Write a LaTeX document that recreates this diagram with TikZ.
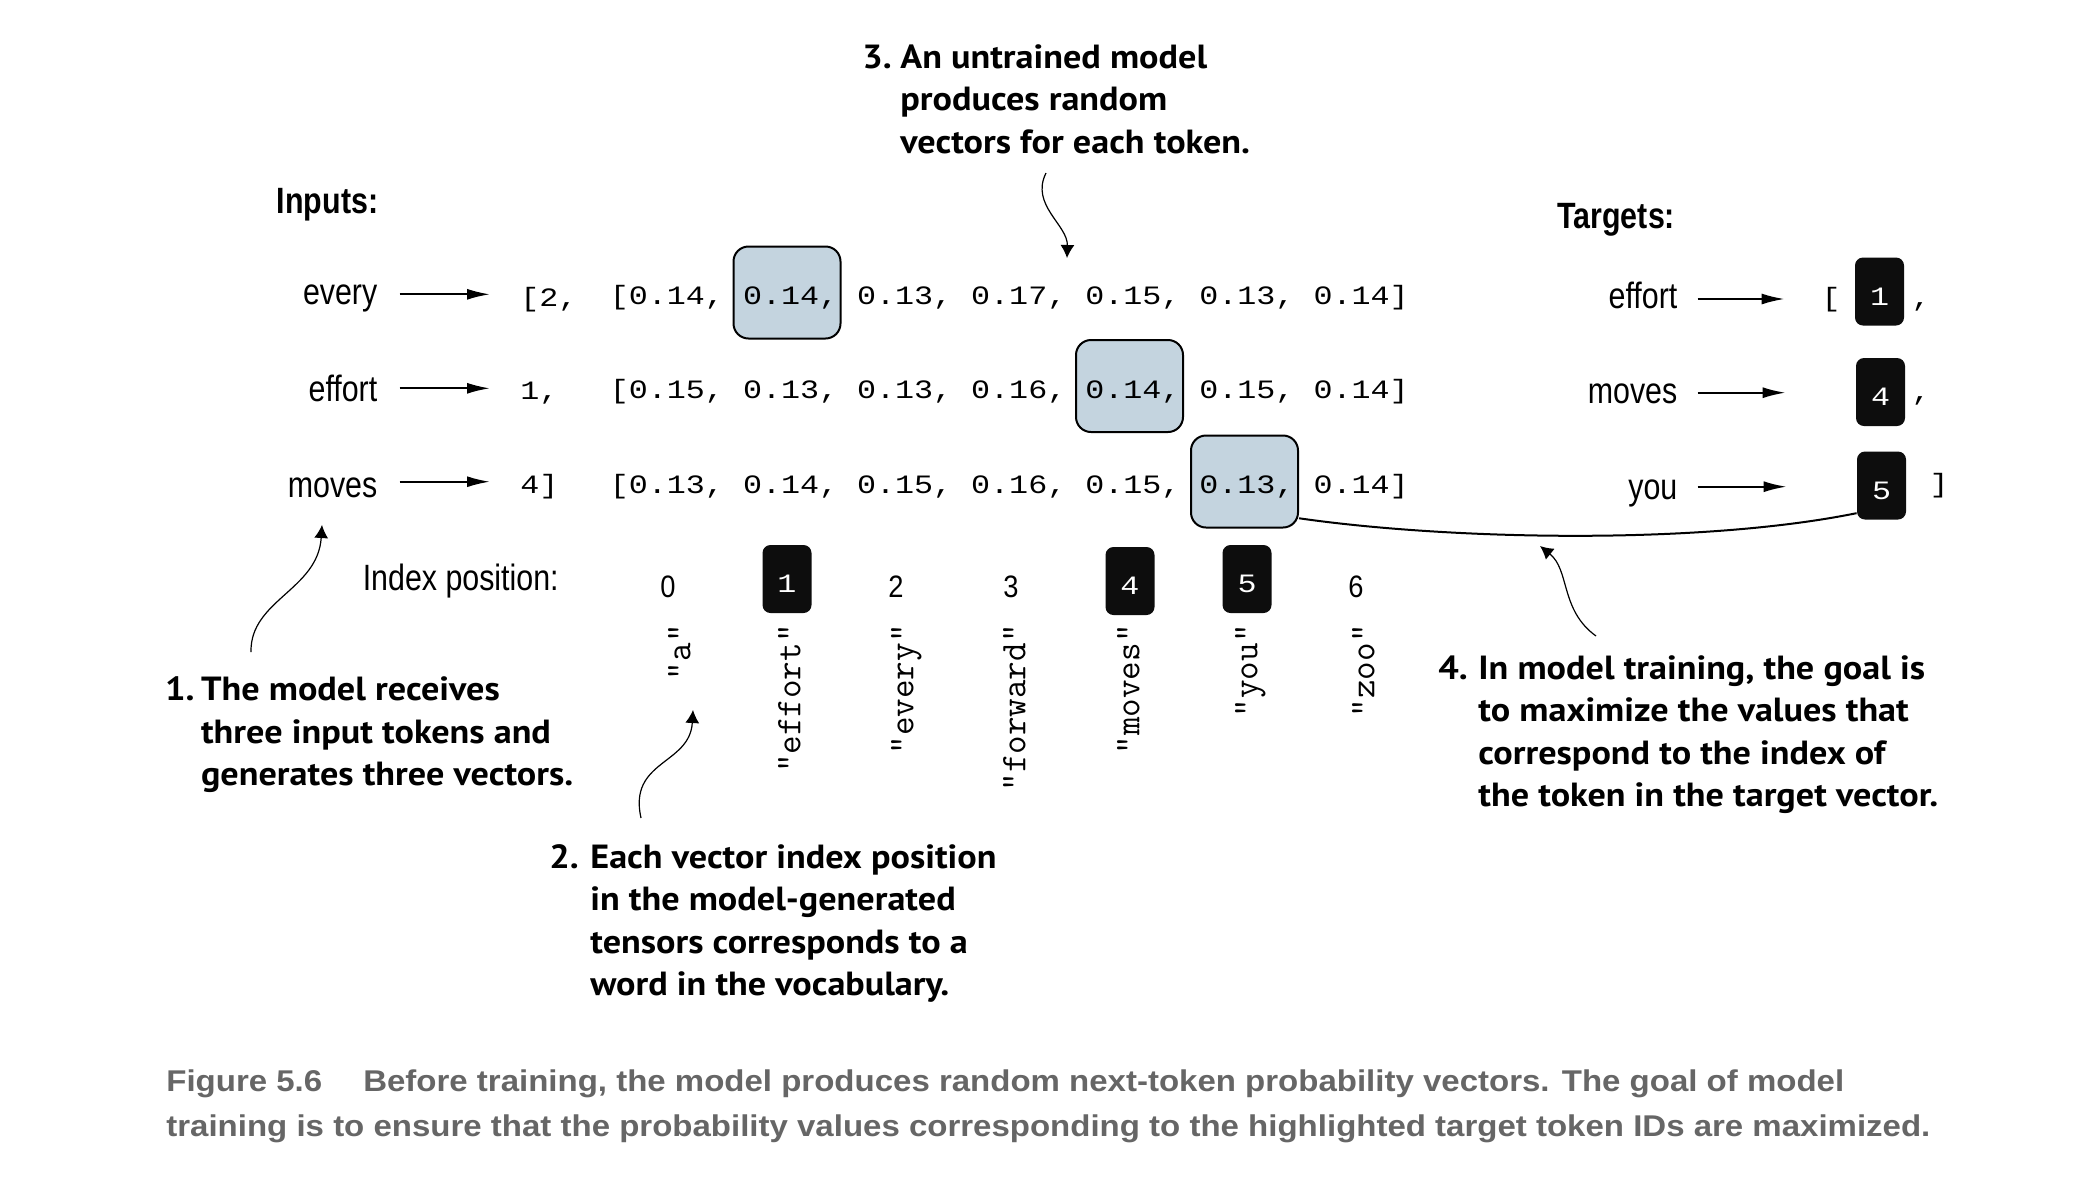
\documentclass[tikz,border=0pt]{standalone}
\usepackage{fontspec}
\usetikzlibrary{arrows.meta}
\newfontfamily\lblfont[FakeStretch=0.83]{Liberation Sans}
\newfontfamily\digfont[FakeStretch=0.88]{Liberation Sans}
\newfontfamily\annfont[FakeStretch=1.08]{PT Sans}
\newfontfamily\capfont[FakeStretch=1.1]{Liberation Sans}
\newfontfamily\vecfont[FakeStretch=1.196]{Liberation Mono}
\definecolor{hl}{HTML}{C4D4DF}
\definecolor{idblack}{HTML}{0D0D0D}
\definecolor{capgray}{HTML}{666666}
\newcommand{\myidnum}[1]{\raisebox{-2.5pt}[\height][0pt]{#1}}
\newcommand{\annnum}[2]{\makebox[#1][l]{#2}}
\begin{document}
\begin{tikzpicture}[x=0.5pt,y=-0.5pt,
  lbl/.style={font=\lblfont\fontsize{18.3pt}{22pt}\selectfont, inner sep=0, text height=10pt, text depth=1pt},
  hdr/.style={font=\lblfont\bfseries\fontsize{18.3pt}{22pt}\selectfont, inner sep=0},
  vec/.style={font=\vecfont\fontsize{13.25pt}{16pt}\selectfont, inner sep=0},
  idtxt/.style={vec, text height=11.5pt, text depth=0pt},
  dig/.style={font=\digfont\fontsize{15.5pt}{18pt}\selectfont, inner sep=0, anchor=base},
  voc/.style={font=\ttfamily\addfontfeatures{FakeStretch=1.12}\fontsize{18pt}{21pt}\selectfont, inner sep=0, rotate=90, anchor=mid east},
  hlbox/.style={draw=black, line width=1pt, fill=hl, rounded corners=7.5pt, minimum width=53.5pt, minimum height=46pt, inner sep=0},
  idbox/.style={fill=idblack, rounded corners=4pt, minimum width=24.5pt, minimum height=34pt, inner sep=0, text=white, font=\vecfont\fontsize{13.25pt}{16pt}\selectfont},
  flow/.style={-{Latex[length=11.5pt,width=5.5pt]}, line width=1pt},
  notearrow/.style={-{Latex[length=6.5pt,width=7pt]}, line width=0.6pt},
  ann/.style={font=\annfont\bfseries\fontsize{16.75pt}{21.25pt}\selectfont, inner sep=0, anchor=base west},
  captext/.style={font=\capfont\bfseries\fontsize{15pt}{22.5pt}\selectfont, text=capgray, inner sep=0, anchor=base west}
]
\fill[white] (0,0) rectangle (2074,1180);
\useasboundingbox (0,0) rectangle (2074,1180);

% headers
\node[hdr, anchor=base west] (inputs) at (276.5,213) {Inputs:};
\node[hdr, anchor=base west] (targets) at (1557,228) {Targets:};

% input labels
\node[lbl, anchor=base east, text height=11.3pt] (lin1) at (377.7,304.6) {every};
\node[lbl, anchor=base east, text height=14pt] (lin2) at (377.7,401.3) {effort};
\node[lbl, anchor=base east, text height=16.6pt] (lin3) at (377.7,497.3) {moves};

% input ids
\node[idtxt, anchor=base west] (in1) at (520,306) {[2,};
\node[idtxt, anchor=base west] (in2) at (520,399) {1,};
\node[idtxt, anchor=base west] (in3) at (520,493) {4]};

\draw[flow, shorten <=11pt, shorten >=15pt] (lin1.east) -- (lin1.east -| in1.west);
\draw[flow, shorten <=11pt, shorten >=15pt] (lin2.east) -- (lin2.east -| in2.west);
\draw[flow, shorten <=11pt, shorten >=15pt] (lin3.east) -- (lin3.east -| in3.west);

% highlight boxes
\node[hlbox] (h1) at (787,292.5) {};
\node[hlbox] (h2) at (1129.5,386) {};
\node[hlbox] (h3) at (1244.5,481.5) {};

% vectors
\node[vec, anchor=base west] (v1) at (609.5,304.5) {[0.14, 0.14, 0.13, 0.17, 0.15, 0.13, 0.14]};
\node[vec, anchor=base west] (v2) at (609.5,398.5) {[0.15, 0.13, 0.13, 0.16, 0.14, 0.15, 0.14]};
\node[vec, anchor=base west] (v3) at (609.5,493) {[0.13, 0.14, 0.15, 0.16, 0.15, 0.13, 0.14]};

% index row
\node[lbl, anchor=base west] (idxlbl) at (362.4,590) {Index position:};
\node[dig] (i0) at (668,597) {0};
\node[idbox] (i1) at (787,579) {\myidnum{1}};
\node[dig] (i2) at (896,597) {2};
\node[dig] (i3) at (1011,597) {3};
\node[idbox] (i4) at (1130,581) {\myidnum{4}};
\node[idbox] (i5) at (1247,579) {\myidnum{5}};
\node[dig] (i6) at (1356,597) {6};

% vocabulary
\node[voc] (w0) at (686,624) {"a"};
\node[voc] (w1) at (796,624) {"effort"};
\node[voc] (w2) at (909,624) {"every"};
\node[voc] (w3) at (1021,624) {"forward"};
\node[voc] (w4) at (1135,624) {"moves"};
\node[voc] (w5) at (1253,624) {"you"};
\node[voc] (w6) at (1370,624) {"zoo"};

% targets
\node[lbl, anchor=base east] (tl1) at (1677.7,308) {effort};
\node[lbl, anchor=base east, text height=11.3pt] (tl2) at (1677.7,403) {moves};
\node[lbl, anchor=base east, text height=14pt] (tl3) at (1677.7,499.7) {you};
\node[idbox] (t1) at (1879.5,291.5) {\myidnum{1}};
\node[idbox] (t4) at (1880.5,392) {\myidnum{4}};
\node[idbox] (t5) at (1881.5,485.5) {\myidnum{5}};
\node[vec, anchor=base] (tb1) at (1831,306) {[};
\node[vec, anchor=base] (tc1) at (1921,306) {,};
\node[vec, anchor=base] (tc2) at (1921,400) {,};
\node[vec, anchor=base] (tb2) at (1939,492) {]};

\draw[flow, shorten <=10pt, shorten >=35pt] (tl1.east) -- (tl1.east -| t1.west);
\draw[flow, shorten <=10pt, shorten >=35pt] (tl2.east) -- (tl2.east -| t4.west);
\draw[flow, shorten <=10pt, shorten >=35pt] (tl3.east) -- (tl3.east -| t5.west);

% link highlighted value to target
\draw[line width=1pt] (h3.-34) .. controls (1450,540) and (1700,545) .. (t5.228);

% annotations
\node[ann] (n3) at (862,68) {\begin{tabular}[t]{@{}l@{}l@{}}\annnum{19pt}{3.} & An untrained model\\ & produces random\\ & vectors for each token.\end{tabular}};
\node[ann] (n1) at (164.7,700.5) {\begin{tabular}[t]{@{}l@{}l@{}}\annnum{18pt}{1.} & The model receives\\ & three input tokens and\\ & generates three vectors.\end{tabular}};
\node[ann] (n2) at (549,868) {\begin{tabular}[t]{@{}l@{}l@{}}\annnum{20.5pt}{2.} & Each vector index position\\ & in the model-generated\\ & tensors corresponds to a\\ & word in the vocabulary.\end{tabular}};
\node[ann] (n4) at (1438,679) {\begin{tabular}[t]{@{}l@{}l@{}}\annnum{20pt}{4.} & In model training, the goal is\\ & to maximize the values that\\ & correspond to the index of\\ & the token in the target vector.\end{tabular}};

\coordinate (a3s) at (1046,173);
\coordinate (a3e) at (1067,258);
\coordinate (a1s) at (251,652);
\coordinate (a1e) at (322,525);
\coordinate (a2s) at (641,818);
\coordinate (a2e) at (693,710);
\coordinate (a4s) at (1596,636);
\coordinate (a4e) at (1540,546);
\draw[notearrow] (a3s) .. controls (1030,205) and (1068,225) .. (a3e);
\draw[notearrow] (a1s) .. controls (250,600) and (318,590) .. (a1e);
\draw[notearrow] (a2s) .. controls (628,760) and (690,765) .. (a2e);
\draw[notearrow] (a4s) .. controls (1560,610) and (1570,570) .. (a4e);

% caption
\node[captext] (caption) at (166,1091) {\begin{tabular}[t]{@{}l@{}}Figure 5.6\hspace{20.5pt}Before training, the model produces random next-token probability vectors. The goal of model\\training is to ensure that the probability values corresponding to the highlighted target token IDs are maximized.\end{tabular}};
\end{tikzpicture}
\end{document}
